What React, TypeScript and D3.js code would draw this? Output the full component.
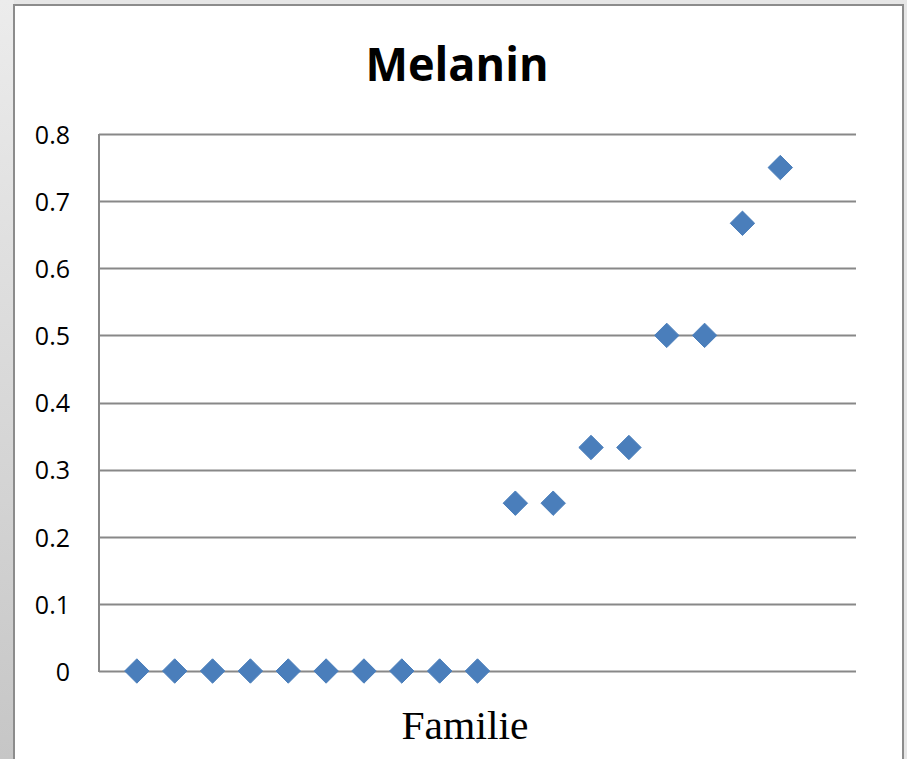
import React, { useEffect, useRef } from 'react';
import * as d3 from 'd3';

// Familie index on x, melanin fraction on y
const familie = [1, 2, 3, 4, 5, 6, 7, 8, 9, 10, 11, 12, 13, 14, 15, 16, 17, 18];
const melanin = [0, 0, 0, 0, 0, 0, 0, 0, 0, 0, 0.25, 0.25, 0.333, 0.333, 0.5, 0.5, 0.667, 0.75];
const yTicks = [0, 0.1, 0.2, 0.3, 0.4, 0.5, 0.6, 0.7, 0.8];

const W = 907;
const H = 759;

const MelaninChart = () => {
  const ref = useRef<SVGSVGElement>(null);

  useEffect(() => {
    draw();
  });

  const draw = () => {
    const svg = d3.select(ref.current);
    svg.selectAll('*').remove();

    const left = 99;
    const right = 856;
    const top = 134;
    const bottom = 671;

    const x = d3.scaleLinear().domain([0, 20]).range([left, right]);
    const y = d3.scaleLinear().domain([0, 0.8]).range([bottom, top]);

    // outer grey frame
    const defs = svg.append('defs');
    const grad = defs
      .append('linearGradient')
      .attr('id', 'strip')
      .attr('x1', 0)
      .attr('y1', 0)
      .attr('x2', 0)
      .attr('y2', 1);
    grad.append('stop').attr('offset', '0%').attr('stop-color', '#ececec');
    grad.append('stop').attr('offset', '100%').attr('stop-color', '#c6c6c6');

    svg.append('rect').attr('width', W).attr('height', H).attr('fill', '#e6e6e6');
    svg.append('rect').attr('width', 14).attr('height', H).attr('fill', 'url(#strip)');

    // chart box
    svg
      .append('rect')
      .attr('x', 14)
      .attr('y', 5)
      .attr('width', 889)
      .attr('height', H)
      .attr('fill', '#ffffff')
      .attr('stroke', '#8c8c8c')
      .attr('stroke-width', 2);

    // gridlines
    svg
      .append('g')
      .selectAll('line')
      .data(yTicks)
      .enter()
      .append('line')
      .attr('x1', left)
      .attr('x2', right)
      .attr('y1', (d) => Math.round(y(d)) + 0.5)
      .attr('y2', (d) => Math.round(y(d)) + 0.5)
      .attr('stroke', '#888888')
      .attr('stroke-width', 2);

    // y axis line
    svg
      .append('line')
      .attr('x1', left)
      .attr('x2', left)
      .attr('y1', y(0.8))
      .attr('y2', y(0) + 1)
      .attr('stroke', '#888888')
      .attr('stroke-width', 2);

    // y tick labels
    svg
      .append('g')
      .selectAll('text')
      .data(yTicks)
      .enter()
      .append('text')
      .attr('x', 70)
      .attr('y', (d) => y(d) + 1)
      .attr('dy', '0.35em')
      .attr('text-anchor', 'end')
      .attr('font-family', '"Open Sans", sans-serif')
      .attr('font-size', 25)
      .attr('fill', '#000')
      .text((d) => (d === 0 ? '0' : d3.format('.1f')(d)));

    // diamonds
    const diamond = d3.symbol().type(d3.symbolDiamond2).size(380);
    svg
      .append('g')
      .selectAll('path')
      .data(familie)
      .enter()
      .append('path')
      .attr('d', diamond)
      .attr('transform', (d, i) => `translate(${x(d)},${y(melanin[i])})`)
      .attr('fill', '#4a7ebb')
      .attr('stroke', '#4a7ebb')
      .attr('stroke-width', 1)
      .attr('stroke-linejoin', 'round');

    // title
    svg
      .append('text')
      .attr('x', 457)
      .attr('y', 81)
      .attr('text-anchor', 'middle')
      .attr('font-family', '"Open Sans", sans-serif')
      .attr('font-weight', 'bold')
      .attr('font-size', 46)
      .attr('textLength', 183)
      .attr('lengthAdjust', 'spacingAndGlyphs')
      .text('Melanin');

    // x axis title
    svg
      .append('text')
      .attr('x', 465)
      .attr('y', 739)
      .attr('text-anchor', 'middle')
      .attr('font-family', '"Liberation Serif", "Times New Roman", serif')
      .attr('font-size', 40)
      .attr('textLength', 127)
      .attr('lengthAdjust', 'spacingAndGlyphs')
      .text('Familie');
  };

  return (
    <svg
      ref={ref}
      width={W}
      height={H}
      style={{ position: 'absolute', left: 0, top: 0, display: 'block' }}
    />
  );
};

export default function App() {
  return <MelaninChart />;
}
